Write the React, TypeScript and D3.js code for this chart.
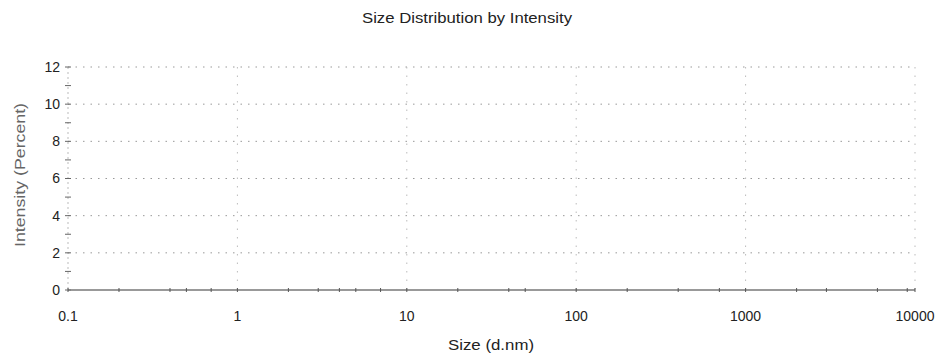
import * as d3 from 'd3';
import React, { useEffect, useRef } from 'react';

// sizes (d.nm) where the flat distribution points sit, and their intensity
const sizes = [0.1, 0.2, 0.4, 0.5, 0.7, 1, 2, 3, 4, 5, 7, 10, 20, 40, 50, 100, 200, 400, 700, 1000, 2000, 3000, 6000, 9000, 10000];
const intensity = [0, 0, 0, 0, 0, 0, 0, 0, 0, 0, 0, 0, 0, 0, 0, 0, 0, 0, 0, 0, 0, 0, 0, 0, 0];
const xTicks = [0.1, 1, 10, 100, 1000, 10000];
const xTickLabels = ['0.1', '1', '10', '100', '1000', '10000'];
const yTicks = [0, 2, 4, 6, 8, 10, 12];
const yMinor = [1, 3, 5, 7, 9, 11];

const W = 940;
const H = 358;
const margin = { top: 67, right: 25, bottom: 68, left: 68 };

const App: React.FC = () => {
  const ref = useRef<SVGSVGElement | null>(null);

  useEffect(() => {
    if (!ref.current) return;
    const svg = d3.select(ref.current);
    svg.selectAll('*').remove();

    const x = d3.scaleLog().domain([0.1, 10000]).range([margin.left, W - margin.right]);
    const y = d3.scaleLinear().domain([0, 12]).range([H - margin.bottom, margin.top]);
    const font = 'Liberation Sans, Arial, sans-serif';

    // gridlines
    svg.append('g')
      .selectAll('line')
      .data(yTicks.slice(1))
      .enter()
      .append('line')
      .attr('x1', margin.left)
      .attr('x2', W - margin.right)
      .attr('y1', d => y(d))
      .attr('y2', d => y(d))
      .attr('stroke', '#999')
      .attr('stroke-dasharray', '1.5,6');

    svg.append('g')
      .selectAll('line')
      .data(xTicks.slice(1))
      .enter()
      .append('line')
      .attr('x1', d => x(d))
      .attr('x2', d => x(d))
      .attr('y1', y(12))
      .attr('y2', y(0))
      .attr('stroke', '#bbb')
      .attr('stroke-dasharray', '1.5,7');

    // y axis
    svg.append('line')
      .attr('x1', x(0.1)).attr('x2', x(0.1))
      .attr('y1', y(12)).attr('y2', y(0))
      .attr('stroke', '#bbb')
      .attr('stroke-dasharray', '2,3');

    svg.append('g')
      .selectAll('line')
      .data(yTicks.concat(yMinor))
      .enter()
      .append('line')
      .attr('x1', x(0.1) - 3)
      .attr('x2', x(0.1) + 3)
      .attr('y1', d => y(d))
      .attr('y2', d => y(d))
      .attr('stroke', '#666');

    svg.append('g')
      .selectAll('text')
      .data(yTicks)
      .enter()
      .append('text')
      .attr('x', x(0.1) - 8)
      .attr('y', d => y(d))
      .attr('dy', '0.35em')
      .attr('text-anchor', 'end')
      .attr('font-family', font)
      .attr('font-size', 14)
      .attr('fill', '#222')
      .text(d => d);

    // x tick labels
    svg.append('g')
      .selectAll('text')
      .data(xTicks)
      .enter()
      .append('text')
      .attr('x', d => x(d))
      .attr('y', H - margin.bottom + 31)
      .attr('text-anchor', 'middle')
      .attr('font-family', font)
      .attr('font-size', 14)
      .attr('fill', '#222')
      .text((_d, i) => xTickLabels[i]);

    // distribution line
    const line = d3.line<number>()
      .x((_d, i) => x(sizes[i]))
      .y(d => y(d));

    svg.append('path')
      .attr('d', line(intensity))
      .attr('fill', 'none')
      .attr('stroke', '#777')
      .attr('stroke-width', 1.5);

    svg.append('g')
      .selectAll('line')
      .data(intensity)
      .enter()
      .append('line')
      .attr('x1', (_d, i) => x(sizes[i]))
      .attr('x2', (_d, i) => x(sizes[i]))
      .attr('y1', d => y(d) - 2)
      .attr('y2', d => y(d) + 2)
      .attr('stroke', '#555');

    // titles
    svg.append('text')
      .attr('x', 467)
      .attr('y', 23)
      .attr('text-anchor', 'middle')
      .attr('font-family', font)
      .attr('font-size', 14)
      .attr('textLength', 210)
      .attr('lengthAdjust', 'spacingAndGlyphs')
      .attr('fill', '#222')
      .text('Size Distribution by Intensity');

    svg.append('text')
      .attr('x', 491)
      .attr('y', 350)
      .attr('text-anchor', 'middle')
      .attr('font-family', font)
      .attr('font-size', 14)
      .attr('textLength', 86)
      .attr('lengthAdjust', 'spacingAndGlyphs')
      .attr('fill', '#222')
      .text('Size (d.nm)');

    svg.append('text')
      .attr('transform', 'translate(25,175) rotate(-90)')
      .attr('text-anchor', 'middle')
      .attr('font-family', font)
      .attr('font-size', 14)
      .attr('textLength', 144)
      .attr('lengthAdjust', 'spacingAndGlyphs')
      .attr('fill', '#666')
      .text('Intensity (Percent)');
  }, []);

  return (
    <svg ref={ref} width={W} height={H} style={{ position: 'absolute', left: 0, top: 0, background: '#fff' }} />
  );
};

export default App;
